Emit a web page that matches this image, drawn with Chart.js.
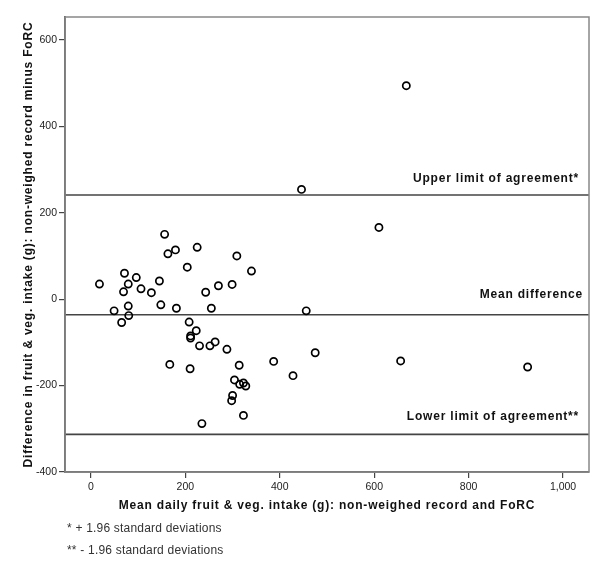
<!DOCTYPE html>
<html>
<head>
<meta charset="utf-8">
<script src="https://cdn.jsdelivr.net/npm/chart.js@4/dist/chart.umd.min.js"></script>
<style>
  body { margin: 0; background: #fff; }
</style>
</head>
<body>
<canvas id="myChart" width="600" height="566"></canvas>
<script>
// mean of the two methods (g) and their difference (g), one entry per child
var meanIntake = [156, 163, 179, 225, 204, 18, 71, 79, 96, 69, 106, 128, 145, 243, 270,
  49, 79, 80, 148, 181, 255, 65, 208, 223, 211, 211, 230, 252, 263, 288,
  167, 210, 314, 304, 315, 323, 328, 300, 298, 323, 235, 309, 340, 299,
  456, 387, 428, 475, 656, 925, 668, 446, 610];
var diffIntake = [150, 105, 114, 120, 74, 35, 60, 35, 50, 17, 24, 15, 42, 16, 31,
  -27, -16, -38, -13, -21, -21, -54, -53, -73, -85, -90, -108, -108, -99, -116,
  -151, -161, -153, -187, -197, -194, -201, -223, -235, -269, -288, 100, 65, 34,
  -27, -144, -177, -124, -143, -157, 494, 254, 166];

// Bland-Altman reference lines
var limitNames = ["Upper limit of agreement*", "Mean difference", "Lower limit of agreement**"];
var limitValues = [241, -36, -313];

var xTicks = [0, 200, 400, 600, 800, 1000];
var yTicks = [-400, -200, 0, 200, 400, 600];
var xMin = -55, xMax = 1055, yMin = -400, yMax = 653;

var xTitle = "Mean daily fruit & veg. intake (g): non-weighed record and FoRC";
var yTitle = "Difference in fruit & veg. intake (g): non-weighed record minus FoRC";
var footnotes = ["* + 1.96 standard deviations", "** - 1.96 standard deviations"];

var points = meanIntake.map(function(x, i) {
  return {x: x, y: diffIntake[i]};
});

var datasets = [{
  type: "scatter",
  data: points,
  pointRadius: 3.6,
  pointBorderWidth: 1.7,
  borderColor: "#000",
  backgroundColor: "rgba(255,255,255,0)",
  order: 0
}];

for (var i = 0; i < limitValues.length; i++) {
  datasets.push({
    type: "line",
    data: [{x: xMin, y: limitValues[i]}, {x: xMax, y: limitValues[i]}],
    borderColor: "#444",
    borderWidth: 1.6,
    pointRadius: 0,
    order: 1
  });
}

var labelOffsets = [16, 20, 18];
var labelInsets = [10, 6, 10];
var FONT = "'Liberation Sans', Arial, sans-serif";

var extras = {
  id: "extras",
  afterDatasetsDraw: function(chart) {
    var ctx = chart.ctx;
    var area = chart.chartArea;
    var y = chart.scales.y;
    ctx.save();
    // frame on top and right
    ctx.strokeStyle = "#888";
    ctx.lineWidth = 1.5;
    ctx.strokeRect(area.left, area.top, area.right - area.left, area.bottom - area.top);

    ctx.fillStyle = "#111";
    ctx.letterSpacing = "0.8px";
    ctx.font = "bold 12px " + FONT;
    ctx.textAlign = "right";
    ctx.textBaseline = "middle";
    for (var i = 0; i < limitNames.length; i++) {
      ctx.fillText(limitNames[i], area.right - labelInsets[i], y.getPixelForValue(limitValues[i]) - labelOffsets[i]);
    }

    // axis titles
    ctx.letterSpacing = "0.8px";
    ctx.textAlign = "center";
    ctx.fillText(xTitle, (area.left + area.right) / 2, 506);
    ctx.save();
    ctx.translate(29, (area.top + area.bottom) / 2);
    ctx.rotate(-Math.PI / 2);
    ctx.fillText(yTitle, 0, 0);
    ctx.restore();

    ctx.fillStyle = "#333";
    ctx.letterSpacing = "0.2px";
    ctx.font = "12px " + FONT;
    ctx.textAlign = "left";
    ctx.fillText(footnotes[0], 67, 529);
    ctx.fillText(footnotes[1], 67, 551);
    ctx.restore();
  }
};

var config = {
  data: {datasets: datasets},
  options: {
    responsive: false,
    animation: false,
    devicePixelRatio: 1,
    layout: {padding: {left: 0, right: 11, top: 17, bottom: 49}},
    plugins: {
      legend: {display: false},
      tooltip: {enabled: false}
    },
    scales: {
      x: {
        type: "linear",
        min: xMin,
        max: xMax,
        afterBuildTicks: function(scale) {
          scale.ticks = xTicks.map(function(v) { return {value: v}; });
        },
        afterFit: function(scale) { scale.height = 45; },
        grid: {drawOnChartArea: false, tickLength: 6, color: "#444", lineWidth: 1.2},
        border: {display: true, color: "#555", width: 1.8},
        ticks: {
          padding: 3,
          color: "#222",
          font: {family: FONT, size: 10.5},
          callback: function(v) { return v.toLocaleString("en-US"); }
        }
      },
      y: {
        type: "linear",
        min: yMin,
        max: yMax,
        afterBuildTicks: function(scale) {
          scale.ticks = yTicks.map(function(v) { return {value: v}; });
        },
        afterFit: function(scale) { scale.width = 65; },
        grid: {drawOnChartArea: false, tickLength: 6, color: "#444", lineWidth: 1.2},
        border: {display: true, color: "#555", width: 1.8},
        ticks: {
          padding: 2,
          color: "#222",
          font: {family: FONT, size: 10.5},
          callback: function(v) { return v.toLocaleString("en-US"); }
        }
      }
    }
  },
  plugins: [extras]
};

var myChart = new Chart(document.getElementById("myChart"), config);
</script>
</body>
</html>
